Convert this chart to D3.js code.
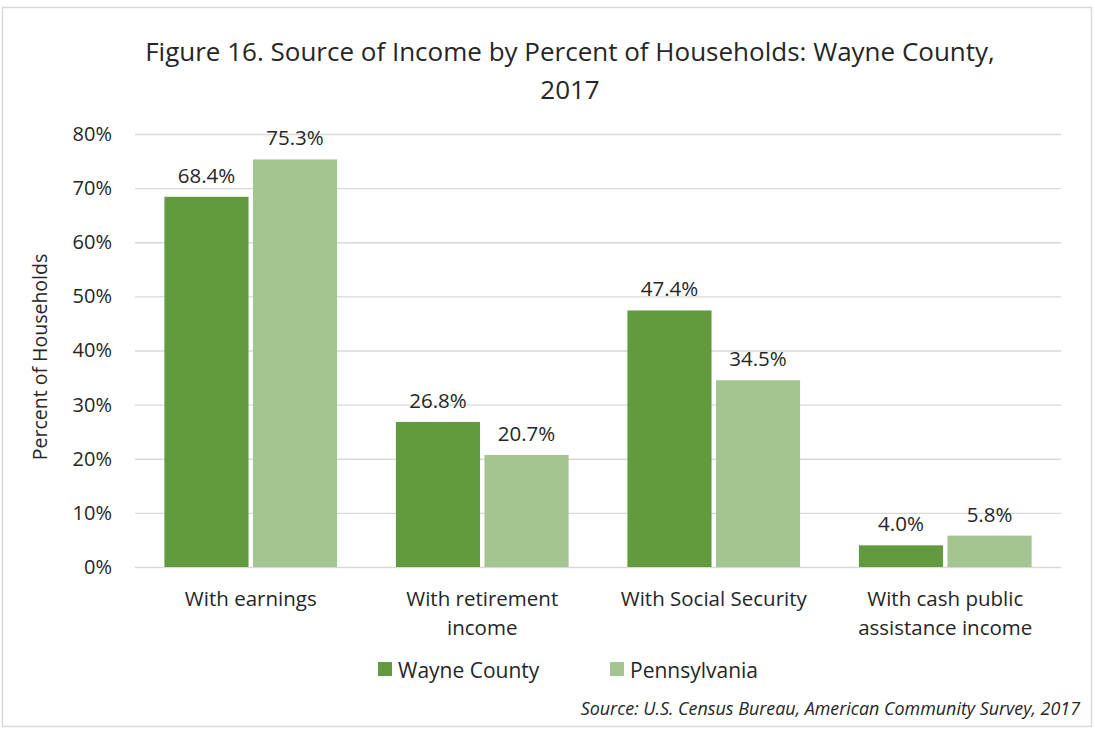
<!DOCTYPE html>
<html><head><meta charset="utf-8">
<script src="https://cdn.jsdelivr.net/npm/d3@7"></script>
<style>body{margin:0;background:#fff;} text{font-family:"Open Sans","Noto Sans",sans-serif;fill:#262626;}</style>
</head><body>
<svg id="c" width="1095" height="730"></svg>
<script>
const categories = [["With earnings"],["With retirement","income"],["With Social Security"],["With cash public","assistance income"]];
const seriesNames = ["Wayne County","Pennsylvania"];
const wayneValues = [68.4, 26.8, 47.4, 4.0];
const paValues = [75.3, 20.7, 34.5, 5.8];
const yTicks = [0,10,20,30,40,50,60,70,80];
const colors = ["#629a3e","#a3c592"];

const svg = d3.select("#c");
svg.append("rect").attr("x",2.5).attr("y",7.5).attr("width",1089).attr("height",719)
  .attr("fill","#fff").attr("stroke","#d9d9d9").attr("stroke-width",1.5);

const pL=135, pR=1061, pT=134, pB=567;
const x0 = d3.scaleBand().domain(d3.range(categories.length)).range([pL,pR]).paddingInner(0.254).paddingOuter(0.127);
const x1 = d3.scaleBand().domain([0,1]).range([0,x0.bandwidth()]).paddingInner(0.05);
const y = d3.scaleLinear().domain([0,80]).range([pB,pT]);

// grid
const yAxis = d3.axisLeft(y).tickValues(yTicks).tickFormat(d=>d+"%").tickSize(-(pR-pL)).tickPadding(23);
const ga = svg.append("g").attr("transform",`translate(${pL},0)`).call(yAxis);
ga.select(".domain").remove();
ga.selectAll(".tick line").attr("stroke","#d9d9d9").attr("stroke-width",1.3);
ga.selectAll(".tick text").attr("font-size",20).style("fill","#262626").attr("font-family","'Open Sans',sans-serif");

const series = [wayneValues, paValues];
series.forEach((vals,si)=>{
  const g = svg.append("g");
  g.selectAll("rect").data(vals).join("rect")
    .attr("x",(d,i)=>x0(i)+x1(si)).attr("width",x1.bandwidth())
    .attr("y",d=>y(d)).attr("height",d=>y(0)-y(d)).attr("fill",colors[si]);
  g.selectAll("text").data(vals).join("text")
    .attr("x",(d,i)=>x0(i)+x1(si)+x1.bandwidth()/2).attr("y",d=>y(d)-14)
    .attr("text-anchor","middle").attr("font-size",20.5).text(d=>d.toFixed(1)+"%");
});

// category labels
categories.forEach((lines,i)=>{
  const t = svg.append("text").attr("x",x0(i)+x0.bandwidth()/2).attr("text-anchor","middle").attr("font-size",20.5);
  lines.forEach((l,j)=>t.append("tspan").attr("x",x0(i)+x0.bandwidth()/2).attr("y",606+j*29).text(l));
});

// title
svg.append("text").attr("x",570).attr("y",61).attr("text-anchor","middle").attr("font-size",26).text("Figure 16. Source of Income by Percent of Households: Wayne County,");
svg.append("text").attr("x",570).attr("y",99).attr("text-anchor","middle").attr("font-size",26).text("2017");

// y title
svg.append("text").attr("transform","translate(47,357) rotate(-90)").attr("text-anchor","middle").attr("font-size",19.5).text("Percent of Households");

// legend
const legX=[378,610];
seriesNames.forEach((n,i)=>{
  svg.append("rect").attr("x",legX[i]).attr("y",662).attr("width",14).attr("height",14).attr("fill",colors[i]);
  svg.append("text").attr("x",legX[i]+20).attr("y",678).attr("font-size",21).text(n);
});

svg.append("text").attr("x",1080).attr("y",715).attr("text-anchor","end").attr("font-size",17.9).attr("font-style","italic")
  .text("Source: U.S. Census Bureau, American Community Survey, 2017");
</script>
</body></html>
